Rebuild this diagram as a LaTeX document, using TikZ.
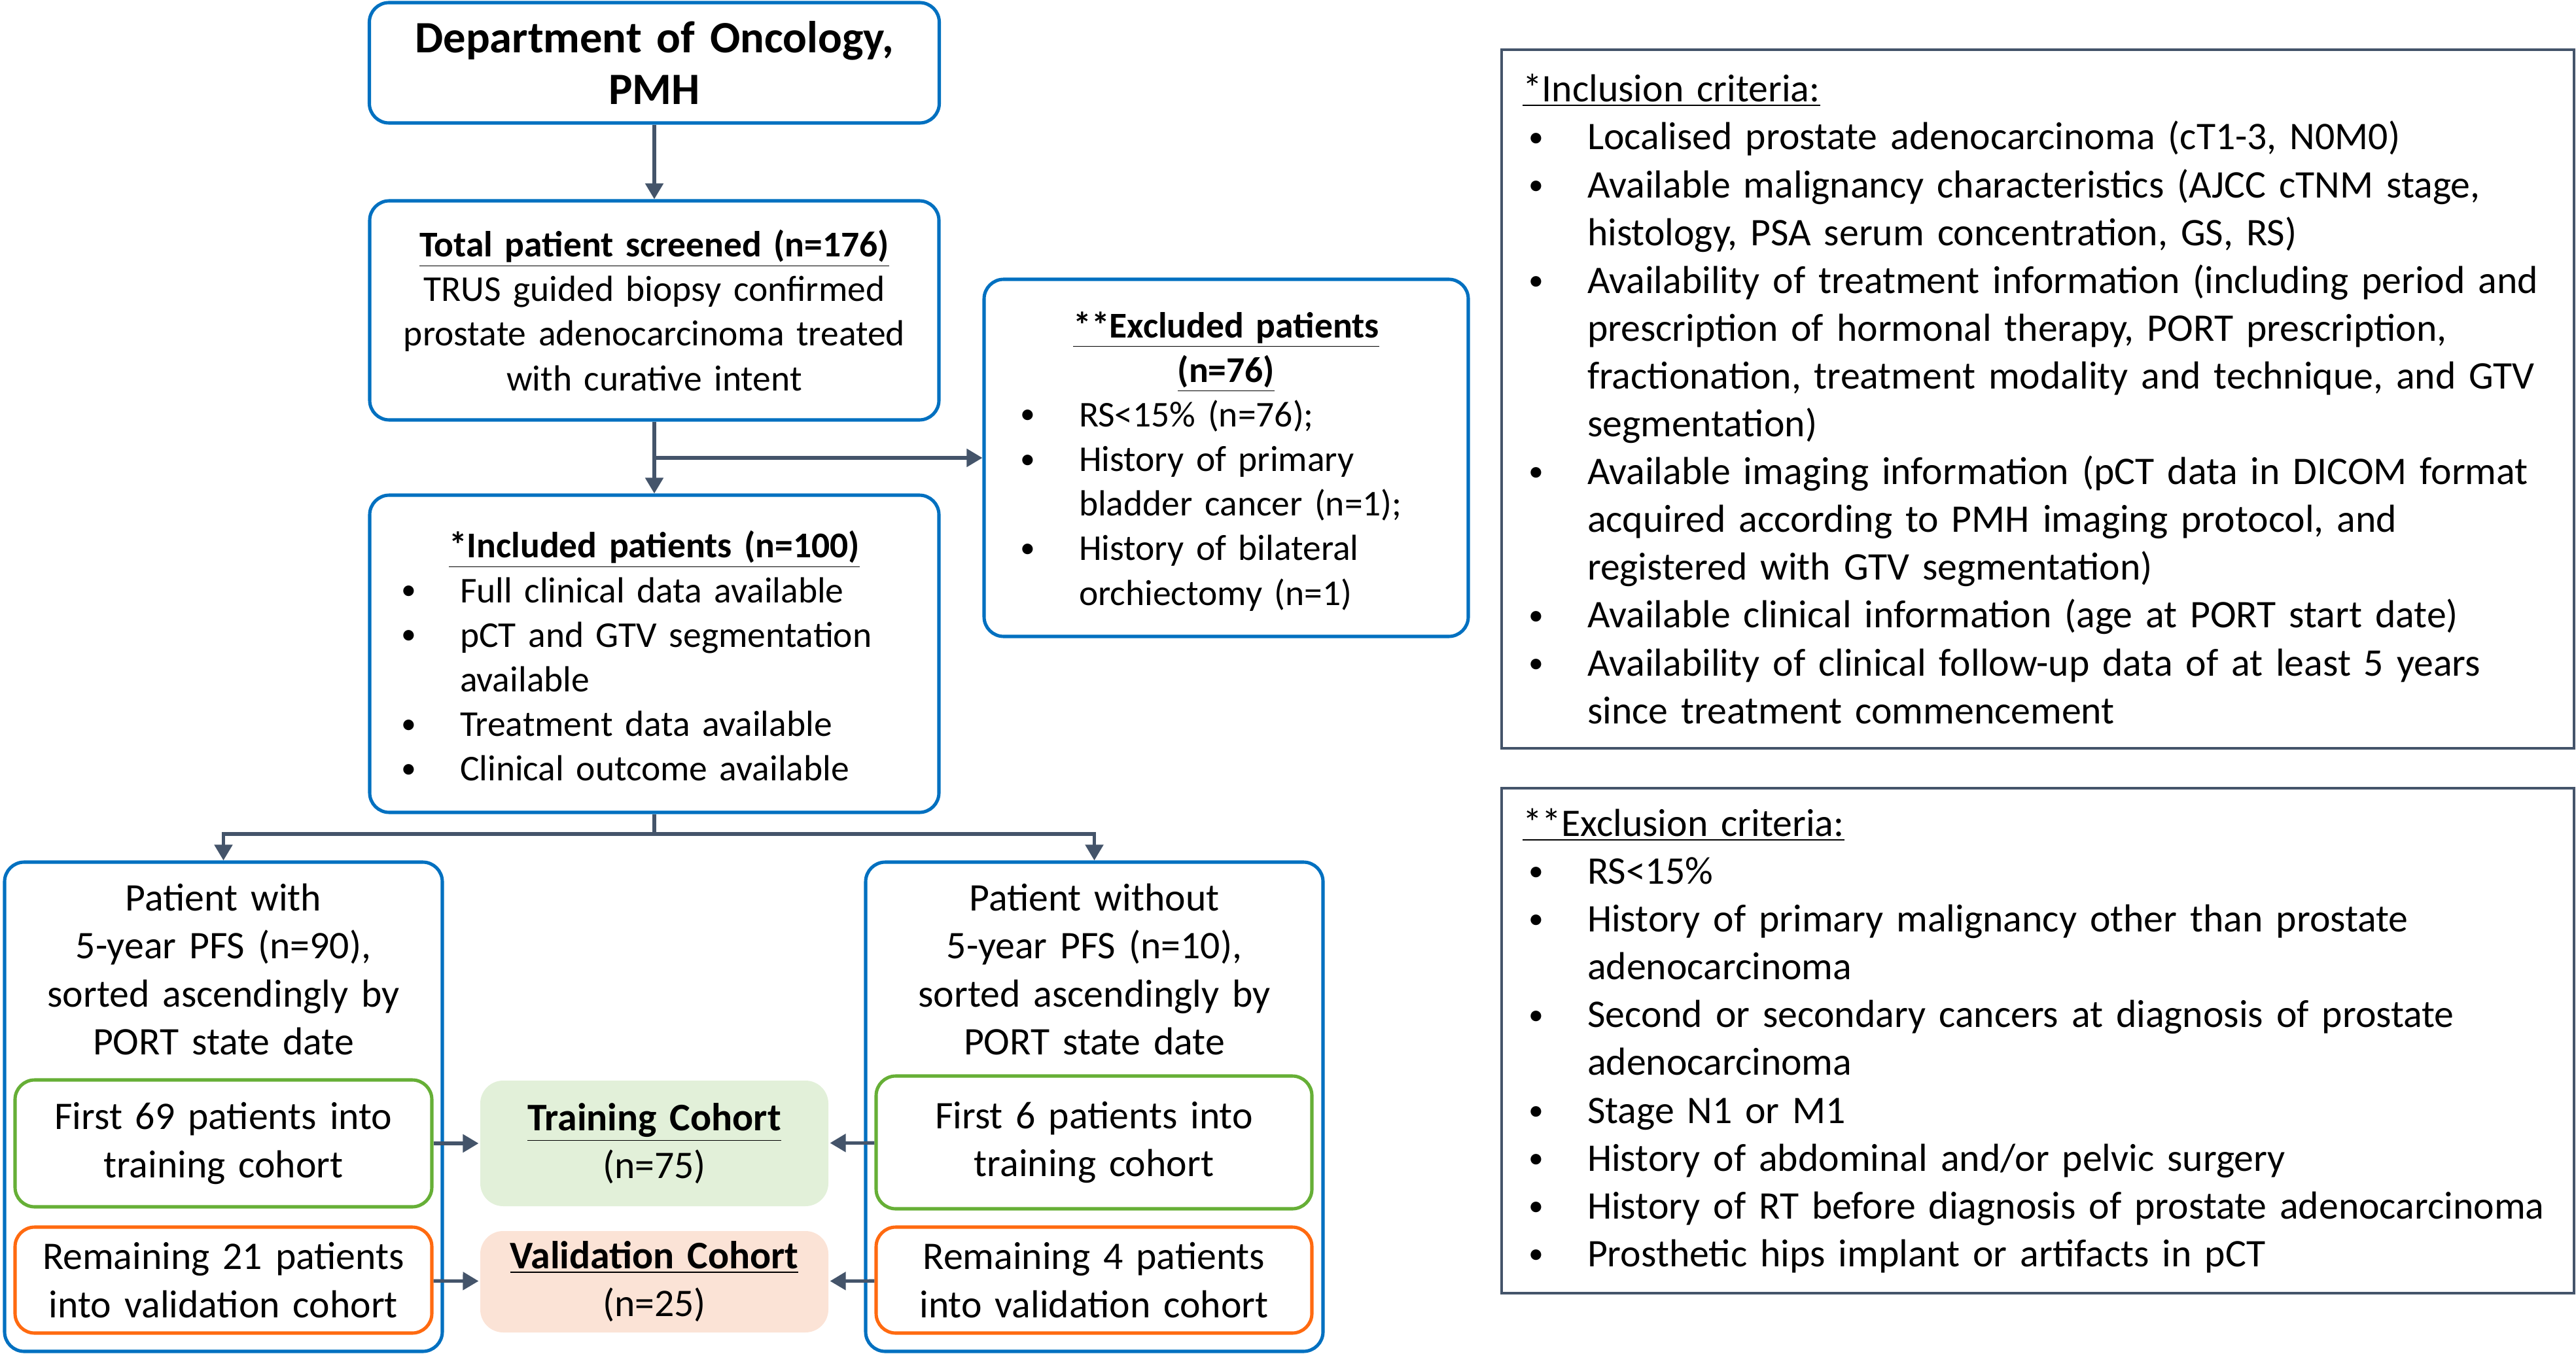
\documentclass[tikz,border=0pt]{standalone}
\usepackage{fontspec}
\setmainfont{Carlito}
\usepackage{color}
\usepackage{tikz}
\usetikzlibrary{arrows.meta}

\definecolor{boxblue}{HTML}{0070C0}
\definecolor{boxgreen}{HTML}{66AF36}
\definecolor{boxorange}{HTML}{FF6A10}
\definecolor{linkgrey}{HTML}{44546A}
\definecolor{trainfill}{HTML}{E2F0D9}
\definecolor{validfill}{HTML}{FBE3D6}

\newcommand{\fs}{\fontsize{17}{20.8}\selectfont}
\newcommand{\fst}{\fontsize{15.8}{19.4}\selectfont}
\newcommand{\nl}{\hfil\break}
\newcommand{\bul}[1]{\par\noindent\hangindent=0.99cm\hangafter=1%
    \makebox[0.99cm][l]{\hspace{0.09cm}\raisebox{0.08em}{\fontsize{13}{13}\selectfont\textbullet}}#1}
\newcommand{\hdr}[1]{\par\noindent\makebox[\hsize]{#1}}

\begin{document}
\begin{tikzpicture}
\useasboundingbox (0,0) rectangle (39.37,-20.70);

% flow boxes
\begin{scope}[every node/.style={draw=boxblue,line width=1.45pt,rounded corners=0.3cm,inner sep=0pt}]
    \node[minimum width=8.71cm,minimum height=1.84cm,text width=8.2cm,align=center,
          font=\fontsize{19.5}{22.7}\selectfont\bfseries] (dept) at (10.0,-0.96)
          {Department of Oncology,\\PMH};
    \node[minimum width=8.70cm,minimum height=3.35cm,text width=8.2cm,align=center,font=\fst] (total) at (10.0,-4.745)
          {\underline{\textbf{Total patient screened (n=176)}}\\TRUS guided biopsy confirmed\\prostate adenocarcinoma treated\\with curative intent};
    \node[minimum width=7.40cm,minimum height=5.46cm,text width=6.48cm,font=\fst] (excl) at (18.74,-7.00)
          {\hdr{\underline{\textbf{**Excluded patients}}}\hdr{\underline{\textbf{(n=76)}}}
           \bul{RS<15\% (n=76);}
           \bul{History of primary\nl bladder cancer (n=1);}
           \bul{History of bilateral\nl orchiectomy (n=1)}\par\kern0.18cm};
    \node[minimum width=8.70cm,minimum height=4.85cm,text width=7.92cm,font=\fst] (incl) at (10.0,-9.995)
          {\hdr{\underline{\textbf{*Included patients (n=100)}}}
           \bul{Full clinical data available}
           \bul{pCT and GTV segmentation\nl available}
           \bul{Treatment data available}
           \bul{Clinical outcome available}\par\kern0.2cm};
    \node[minimum width=6.69cm,minimum height=7.48cm] (with) at (3.415,-16.92) {};
    \node[minimum width=6.99cm,minimum height=7.48cm] (without) at (16.725,-16.92) {};
\end{scope}

\node[text width=6.4cm,align=center,font=\fs] (withtxt) at (3.415,-14.82)
      {Patient with\\5-year PFS (n=90),\\sorted ascendingly by\\PORT state date};
\node[text width=6.6cm,align=center,font=\fs] (withouttxt) at (16.725,-14.82)
      {Patient without\\5-year PFS (n=10),\\sorted ascendingly by\\PORT state date};

% cohort split boxes
\begin{scope}[every node/.style={line width=1.45pt,rounded corners=0.3cm,text width=6.2cm,align=center,font=\fs,inner sep=0pt}]
    \node[draw=boxgreen,minimum width=6.37cm,minimum height=1.94cm] (g1) at (3.415,-17.48)
          {First 69 patients into\\training cohort};
    \node[draw=boxorange,minimum width=6.37cm,minimum height=1.62cm] (o1) at (3.415,-19.57)
          {Remaining 21 patients\\into validation cohort};
    \node[draw=boxgreen,minimum width=6.66cm,minimum height=2.03cm] (g2) at (16.72,-17.465)
          {First 6 patients into\\training cohort};
    \node[draw=boxorange,minimum width=6.66cm,minimum height=1.62cm] (o2) at (16.72,-19.57)
          {Remaining 4 patients\\into validation cohort};
    \node[fill=trainfill,rounded corners=0.35cm,minimum width=5.32cm,minimum height=1.92cm,text width=5cm] (train) at (10.0,-17.48)
          {\underline{\textbf{Training Cohort}}\\(n=75)};
    \node[fill=validfill,rounded corners=0.35cm,minimum width=5.32cm,minimum height=1.55cm,text width=5cm] (valid) at (10.0,-19.595)
          {\underline{\textbf{Validation Cohort}}\\(n=25)};
\end{scope}

% criteria boxes
\begin{scope}[every node/.style={draw=linkgrey,line width=1pt,inner xsep=0.32cm,inner ysep=0pt,font=\fs,text width=15.75cm}]
    \node[minimum width=16.39cm,minimum height=10.68cm] (inccrit) at (31.145,-6.10)
          {\noindent\underline{*Inclusion criteria:}
           \bul{Localised prostate adenocarcinoma (cT1-3, N0M0)}
           \bul{Available malignancy characteristics (AJCC cTNM stage,\nl histology, PSA serum concentration, GS, RS)}
           \bul{Availability of treatment information (including period and\nl prescription of hormonal therapy, PORT prescription,\nl fractionation, treatment modality and technique, and GTV\nl segmentation)}
           \bul{Available imaging information (pCT data in DICOM format\nl acquired according to PMH imaging protocol, and\nl registered with GTV segmentation)}
           \bul{Available clinical information (age at PORT start date)}
           \bul{Availability of clinical follow-up data of at least 5 years\nl since treatment commencement}\par};
    \node[minimum width=16.39cm,minimum height=7.72cm] (exccrit) at (31.145,-15.91)
          {\noindent\underline{**Exclusion criteria:}
           \bul{RS<15\%}
           \bul{History of primary malignancy other than prostate\nl adenocarcinoma}
           \bul{Second or secondary cancers at diagnosis of prostate\nl adenocarcinoma}
           \bul{Stage N1 or M1}
           \bul{History of abdominal and/or pelvic surgery}
           \bul{History of RT before diagnosis of prostate adenocarcinoma}
           \bul{Prosthetic hips implant or artifacts in pCT}\par};
\end{scope}

\coordinate (split) at (10.0,-7.00);
\coordinate (fork) at (10.0,-12.75);

\begin{scope}[>={Triangle[length=0.24cm,width=0.27cm]},
              link/.style={draw=linkgrey,line width=1.45pt},
              every edge/.style={link}]
    \path [->] (dept) edge (total);
    \path [->] (total) edge (incl);
    \path [->] (split) edge (excl);
    \draw [link] (incl) -- (fork);
    \draw [link,->] (fork) -| (with);
    \draw [link,->] (fork) -| (without);
    \path [->] (g1) edge (train);
    \path [->] (o1) edge (valid);
    \path [->] (g2) edge (train);
    \path [->] (o2) edge (valid);
\end{scope}
\end{tikzpicture}
\end{document}
